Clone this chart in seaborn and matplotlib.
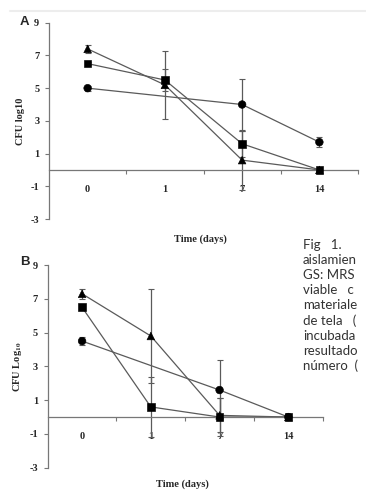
import matplotlib
matplotlib.use("Agg")
import matplotlib.pyplot as plt
import seaborn as sns
import pandas as pd
from matplotlib.lines import Line2D

# sampling days (categories on the x axis)
days = ["0", "1", "7", "14"]

# panel A: CFU log10 per series (None = not measured)
a_circle = [5.0, None, 4.0, 1.7]
a_circle_err = [0.15, None, 1.55, 0.3]
a_square = [6.5, 5.5, 1.6, 0.0]
a_square_err = [0.1, 0.7, 0.8, 0.0]
a_triangle = [7.4, 5.2, 0.6, 0.0]
a_triangle_err = [0.25, 2.1, 1.8, 0.0]

# panel B
b_circle = [4.5, None, 1.6, 0.0]
b_circle_err = [0.25, None, 1.8, 0.0]
b_square = [6.5, 0.6, 0.0, 0.0]
b_square_err = [0.1, 1.8, 1.1, 0.0]
b_triangle = [7.3, 4.8, 0.1, 0.0]
b_triangle_err = [0.3, 2.8, 1.0, 0.0]

yticks = [9, 7, 5, 3, 1, -1, -3]

caption = ["Fig   1.", "aislamien", "GS: MRS", "viable   c", "materiale",
           "de tela   (", "incubada", "resultado", "número  ("]


def build_df(circle, circle_err, square, square_err, triangle, triangle_err):
    rows = []
    for name, vals, errs in [("circle", circle, circle_err),
                             ("square", square, square_err),
                             ("triangle", triangle, triangle_err)]:
        for i, (v, e) in enumerate(zip(vals, errs)):
            if v is None:
                continue
            rows.append({"series": name, "day": days[i], "pos": i + 0.5,
                         "value": v, "err": e})
    return pd.DataFrame(rows)


serif = ["Liberation Serif", "DejaVu Serif"]
grey = "#5a5a5a"


def draw_panel(ax, df, ylabel, xlabel_y):
    sns.lineplot(data=df, x="pos", y="value", units="series", estimator=None,
                 sort=False, color=grey, lw=0.9, legend=False, ax=ax, zorder=2)
    eb = df[df["err"] > 0]
    ax.errorbar(eb["pos"], eb["value"], yerr=eb["err"], fmt="none",
                ecolor=grey, elinewidth=0.9, capsize=2, capthick=0.8, zorder=1)
    sns.scatterplot(data=df, x="pos", y="value", style="series",
                    markers={"circle": "o", "square": "s", "triangle": "^"},
                    color="black", edgecolor="black", s=30, legend=False,
                    ax=ax, zorder=3)

    # spine moves first: set_position resets the tick objects
    for s in ["top", "right"]:
        ax.spines[s].set_visible(False)
    ax.spines["bottom"].set_position(("data", 0))
    for s in ["left", "bottom"]:
        ax.spines[s].set_color("#777")
        ax.spines[s].set_linewidth(0.9)

    ax.set_xlim(0, len(days))
    ax.set_ylim(-3, 9)
    ax.set_yticks(yticks)
    ax.set_yticklabels([str(t) for t in yticks])
    ax.set_xticks(range(1, len(days) + 1))
    ax.set_xticklabels([])
    ax.set_xticks([i + 0.5 for i in range(len(days))], minor=True)
    ax.set_xticklabels(days, minor=True)
    ax.tick_params(axis="x", which="minor", length=0, pad=11)
    ax.tick_params(axis="x", which="major", length=3, width=0.8, color="#777")
    ax.tick_params(axis="y", length=3, width=0.8, color="#777", pad=4)
    for lab in ax.get_xticklabels(minor=True) + ax.get_yticklabels():
        lab.set_fontfamily(serif)
        lab.set_fontweight("bold")
        lab.set_fontsize(7.5)

    ax.set_ylabel(ylabel, fontfamily=serif, fontweight="bold", fontsize=7.5,
                  labelpad=4)
    ax.set_xlabel("Time (days)", fontfamily=serif, fontweight="bold",
                  fontsize=7.5)
    ax.xaxis.label.set_va("center")
    ax.xaxis.set_label_coords(0.49, xlabel_y)


sns.set_style("ticks")
plt.rcParams["mathtext.fontset"] = "stix"

fig = plt.figure(figsize=(3.66, 4.90), dpi=100)
ax_a = fig.add_axes([49 / 366, 0.553, 309 / 366, 0.4006])
ax_b = fig.add_axes([47.7 / 366, 0.0455, 275 / 366, 0.4135])

df_a = build_df(a_circle, a_circle_err, a_square, a_square_err,
                a_triangle, a_triangle_err)
df_b = build_df(b_circle, b_circle_err, b_square, b_square_err,
                b_triangle, b_triangle_err)

draw_panel(ax_a, df_a, "CFU log10", -0.102)
draw_panel(ax_b, df_b, r"CFU Log$_{\mathbf{10}}$", -0.08)

# panel letters
for letter, ypx in [("A", 22), ("B", 262)]:
    fig.text(24.5 / 366, 1 - ypx / 490, letter, ha="center", va="center",
             fontfamily=["Liberation Sans", "DejaVu Sans"], fontweight="bold",
             fontsize=9.5)

# faint rule at the very top of the page
fig.add_artist(Line2D([10 / 366, 1.0], [1 - 11 / 490, 1 - 11 / 490],
                      color="#ededed", lw=1.5, transform=fig.transFigure))

for i, line in enumerate(caption):
    fig.text(303 / 366, 1 - (245 + i * 15.1) / 490, line, ha="left",
             va="center", fontfamily=["Lato", "DejaVu Sans"],
             fontsize=9.5, color="#333333")

fig.savefig("out.png", dpi=100)
